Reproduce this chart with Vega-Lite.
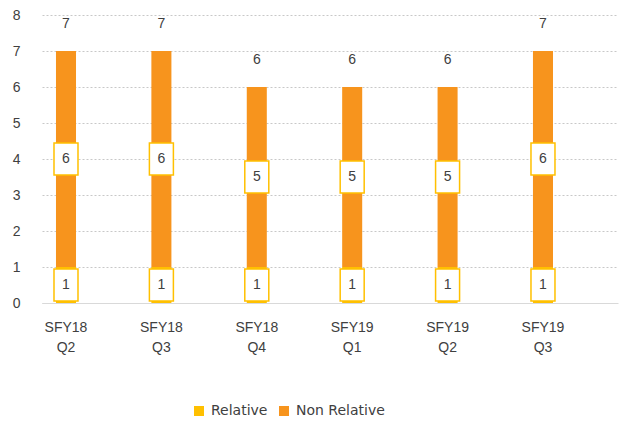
{
  "$schema": "https://vega.github.io/schema/vega-lite/v6.json",
  "width": 576,
  "height": 288,
  "autosize": "none",
  "padding": {"left": 42, "top": 15, "right": 8, "bottom": 119},
  "background": "white",
  "config": {
    "view": {"stroke": null},
    "font": "Liberation Sans",
    "axis": {"labelFont": "Liberation Sans", "labelColor": "#404040", "labelFontSize": 14}
  },
  "resolve": {"axis": {"y": "independent"}},
  "data": {
    "values": [
      {"period": "SFY18 Q2", "series": "Relative", "value": 1},
      {"period": "SFY18 Q2", "series": "Non Relative", "value": 6},
      {"period": "SFY18 Q3", "series": "Relative", "value": 1},
      {"period": "SFY18 Q3", "series": "Non Relative", "value": 6},
      {"period": "SFY18 Q4", "series": "Relative", "value": 1},
      {"period": "SFY18 Q4", "series": "Non Relative", "value": 5},
      {"period": "SFY19 Q1", "series": "Relative", "value": 1},
      {"period": "SFY19 Q1", "series": "Non Relative", "value": 5},
      {"period": "SFY19 Q2", "series": "Relative", "value": 1},
      {"period": "SFY19 Q2", "series": "Non Relative", "value": 5},
      {"period": "SFY19 Q3", "series": "Relative", "value": 1},
      {"period": "SFY19 Q3", "series": "Non Relative", "value": 6}
    ]
  },
  "encoding": {
    "x": {
      "field": "period",
      "type": "nominal",
      "sort": null,
      "scale": {"paddingInner": 0.79, "paddingOuter": 0.414, "align": 0.177},
      "axis": {
        "title": null,
        "labelAngle": 0,
        "ticks": false,
        "domainColor": "#D9D9D9",
        "domainWidth": 1,
        "labelExpr": "split(datum.label, ' ')",
        "labelLineHeight": 20,
        "labelPadding": 17,
        "labelBaseline": "top"
      }
    }
  },
  "layer": [
    {
      "mark": {"type": "bar"},
      "encoding": {
        "y": {
          "field": "value",
          "type": "quantitative",
          "aggregate": "sum",
          "stack": "zero",
          "title": null,
          "scale": {"domain": [0, 8], "nice": false},
          "axis": {
            "values": [0, 1, 2, 3, 4, 5, 6, 7, 8],
            "labelOverlap": false,
            "domain": false,
            "ticks": false,
            "labelPadding": 22,
            "gridColor": "#C8C8C8",
            "gridDash": [2, 2],
            "gridWidth": 1
          }
        },
        "color": {
          "field": "series",
          "type": "nominal",
          "scale": {"domain": ["Relative", "Non Relative"], "range": ["#FFC000", "#F7941D"]},
          "legend": {
            "title": null,
            "orient": "none",
            "direction": "horizontal",
            "legendX": 150,
            "legendY": 389,
            "symbolType": "square",
            "symbolSize": 100,
            "symbolStrokeWidth": 0,
            "labelFontSize": 14,
            "labelColor": "#404040",
            "labelFont": "DejaVu Sans",
            "labelOffset": 5,
            "columnPadding": 9,
            "padding": 0
          }
        },
        "order": {"field": "series", "sort": "descending"}
      }
    },
    {
      "transform": [
        {"stack": "value", "groupby": ["period"], "sort": [{"field": "series", "order": "descending"}], "as": ["v0", "v1"]},
        {"calculate": "(datum.v0 + datum.v1) / 2", "as": "mid"}
      ],
      "mark": {"type": "point", "shape": "M-0.75,-1H0.75V1H-0.75Z", "filled": true, "fill": "white", "stroke": "#FFC000", "strokeWidth": 1.5, "size": 1024, "opacity": 1},
      "encoding": {
        "y": {"field": "mid", "type": "quantitative", "axis": null}
      }
    },
    {
      "transform": [
        {"stack": "value", "groupby": ["period"], "sort": [{"field": "series", "order": "descending"}], "as": ["v0", "v1"]},
        {"calculate": "(datum.v0 + datum.v1) / 2", "as": "mid"}
      ],
      "mark": {"type": "text", "fontSize": 14, "color": "#404040", "baseline": "middle", "align": "center", "font": "Liberation Sans"},
      "encoding": {
        "y": {"field": "mid", "type": "quantitative", "axis": null},
        "text": {"field": "value", "type": "quantitative"}
      }
    },
    {
      "transform": [
        {"aggregate": [{"op": "sum", "field": "value", "as": "total"}], "groupby": ["period"]}
      ],
      "mark": {"type": "text", "fontSize": 14, "color": "#404040", "baseline": "middle", "align": "center", "dy": -27, "font": "Liberation Sans"},
      "encoding": {
        "y": {"field": "total", "type": "quantitative", "axis": null},
        "text": {"field": "total", "type": "quantitative"}
      }
    }
  ]
}
